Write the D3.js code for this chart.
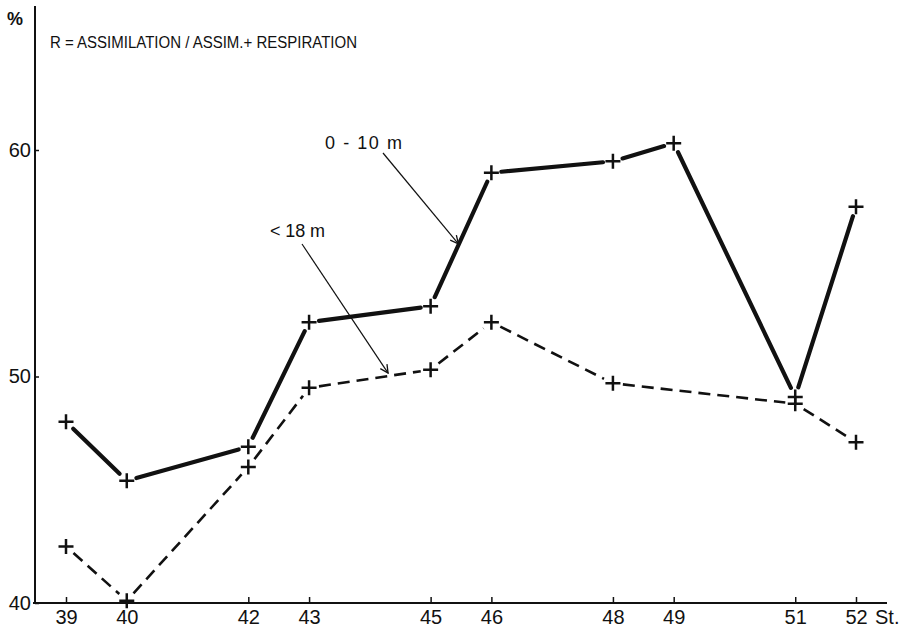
<!DOCTYPE html>
<html>
<head>
<meta charset="utf-8">
<script src="https://cdn.jsdelivr.net/npm/d3@7"></script>
<style>
  html, body { margin: 0; padding: 0; background: #fff; }
  svg { display: block; }
  text { font-family: "Liberation Sans", Arial, sans-serif; fill: #111; }
</style>
</head>
<body>
<svg id="chart" width="910" height="632"></svg>
<script>
// Station numbers along the transect
const stations = [39, 40, 42, 43, 45, 46, 48, 49, 51, 52];
// R (%) for the 0–10 m layer
const surfaceR = [48.0, 45.4, 46.9, 52.4, 53.1, 59.0, 59.5, 60.3, 49.1, 57.5];
// R (%) for the layer < 18 m (no value at station 49)
const deepStations = [39, 40, 42, 43, 45, 46, 48, 51, 52];
const deepR = [42.5, 40.1, 46.0, 49.5, 50.3, 52.4, 49.7, 48.8, 47.1];
const yTicks = [40, 50, 60];

const svg = d3.select("#chart");
const ink = "#111";
const fontStack = "'Liberation Sans', Arial, sans-serif";

const x = d3.scaleLinear().domain([39, 52]).range([66, 856]);
const y = d3.scaleLinear().domain([40, 60]).range([603, 150]);

const axisX0 = 35;     // position of the vertical axis
const axisY0 = y(40);  // position of the horizontal axis

// Axis lines
svg.append("line")
  .attr("x1", axisX0).attr("x2", axisX0)
  .attr("y1", 6).attr("y2", axisY0)
  .attr("stroke", ink).attr("stroke-width", 2);
svg.append("line")
  .attr("x1", axisX0 - 2).attr("x2", x(52) + 31)
  .attr("y1", axisY0).attr("y2", axisY0)
  .attr("stroke", ink).attr("stroke-width", 2);

// Bottom axis: station ticks pointing up into the plot
const gx = svg.append("g")
  .attr("transform", `translate(0,${axisY0})`)
  .call(d3.axisBottom(x).tickValues(stations).tickFormat(d3.format("d"))
        .tickSize(-6).tickPadding(7));
gx.select(".domain").remove();
gx.selectAll(".tick line").attr("stroke", ink).attr("stroke-width", 1.5);
gx.selectAll(".tick text")
  .attr("font-size", 20).attr("fill", ink)
  .style("font-family", fontStack);

svg.append("text")
  .attr("x", x(52) + 19).attr("y", axisY0 + 7)
  .attr("dy", "0.71em")
  .attr("font-size", 20)
  .text("St.");

// Left axis
const gy = svg.append("g")
  .attr("transform", `translate(${axisX0},0)`)
  .call(d3.axisLeft(y).tickValues(yTicks).tickFormat(d3.format("d"))
        .tickSize(-4).tickPadding(4));
gy.select(".domain").remove();
gy.selectAll(".tick line").attr("stroke", ink).attr("stroke-width", 1.5);
gy.selectAll(".tick text")
  .attr("font-size", 20).attr("fill", ink)
  .style("font-family", fontStack);

svg.append("text")
  .attr("x", 7).attr("y", 25)
  .attr("font-size", 18)
  .attr("font-weight", "bold")
  .text("%");

// Formula heading
svg.append("text")
  .attr("x", 50).attr("y", 48)
  .attr("font-size", 16)
  .attr("textLength", 307).attr("lengthAdjust", "spacingAndGlyphs")
  .text("R = ASSIMILATION / ASSIM.+ RESPIRATION");

// Series drawn as separate strokes that stop short of each marker
function drawSeries(xs, vs, opts) {
  const pts = xs.map((s, i) => [x(s), y(vs[i])]);
  const gap = 10;
  const segs = d3.pairs(pts).map(([a, b]) => {
    const dx = b[0] - a[0], dy = b[1] - a[1];
    const len = Math.hypot(dx, dy);
    const ux = dx / len, uy = dy / len;
    return [[a[0] + ux * gap, a[1] + uy * gap], [b[0] - ux * gap, b[1] - uy * gap]];
  });
  const g = svg.append("g");
  g.selectAll("line.seg").data(segs).join("line")
    .attr("class", "seg")
    .attr("x1", d => d[0][0]).attr("y1", d => d[0][1])
    .attr("x2", d => d[1][0]).attr("y2", d => d[1][1])
    .attr("stroke", ink)
    .attr("stroke-width", opts.width)
    .attr("stroke-linecap", opts.dash ? "butt" : "round")
    .attr("stroke-dasharray", opts.dash || null);
  const arm = 7.5;
  g.selectAll("path.mark").data(pts).join("path")
    .attr("class", "mark")
    .attr("d", d => `M${d[0] - arm},${d[1]}H${d[0] + arm}M${d[0]},${d[1] - arm}V${d[1] + arm}`)
    .attr("stroke", ink).attr("stroke-width", 2.5).attr("fill", "none");
  return pts;
}

const surfPts = drawSeries(stations, surfaceR, { width: 4.2 });
const deepPts = drawSeries(deepStations, deepR, { width: 2.6, dash: "12,7" });

// Arrowhead for the annotation pointers
svg.append("defs").append("marker")
  .attr("id", "arrow")
  .attr("viewBox", "0 0 10 10")
  .attr("refX", 9).attr("refY", 5)
  .attr("markerWidth", 10).attr("markerHeight", 10)
  .attr("markerUnits", "userSpaceOnUse")
  .attr("orient", "auto")
  .append("path")
  .attr("d", "M1,1L9,5L1,9")
  .attr("fill", "none").attr("stroke", ink).attr("stroke-width", 1.3);

function pointer(label, lx, ly, len, from, a, b, t, ox, oy) {
  const tip = [a[0] + (b[0] - a[0]) * t + ox, a[1] + (b[1] - a[1]) * t + oy];
  svg.append("text")
    .attr("x", lx).attr("y", ly)
    .attr("font-size", 18)
    .attr("textLength", len).attr("lengthAdjust", "spacing")
    .text(label);
  svg.append("line")
    .attr("x1", from[0]).attr("y1", from[1])
    .attr("x2", tip[0]).attr("y2", tip[1])
    .attr("stroke", ink).attr("stroke-width", 1.2)
    .attr("marker-end", "url(#arrow)");
}

// "0 - 10 m" points at the rise between stations 45 and 46
pointer("0 - 10 m", 325, 149, 77, [383, 153], surfPts[4], surfPts[5], 0.49, -2, 3);
// "< 18 m" points at the dashed line between stations 43 and 45
pointer("< 18 m", 270, 237, 55, [302, 244], deepPts[3], deepPts[4], 0.65, 0, -3);
</script>
</body>
</html>
